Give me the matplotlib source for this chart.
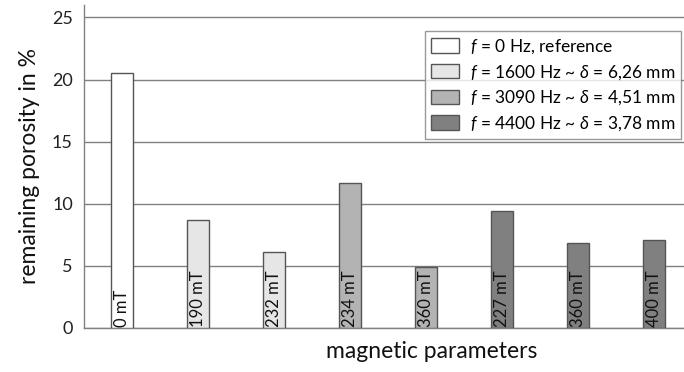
import matplotlib
matplotlib.use("Agg")
import matplotlib.pyplot as plt
from matplotlib.patches import Patch

categories = ["0 mT", "190 mT", "232 mT", "234 mT", "360 mT", "227 mT", "360 mT", "400 mT"]
values = [20.5, 8.7, 6.1, 11.65, 4.9, 9.4, 6.85, 7.1]
groups = [0, 1, 1, 2, 2, 3, 3, 3]
group_labels = [r"$f$ = 0 Hz, reference",
                r"$f$ = 1600 Hz ~ $\delta$ = 6,26 mm",
                r"$f$ = 3090 Hz ~ $\delta$ = 4,51 mm",
                r"$f$ = 4400 Hz ~ $\delta$ = 3,78 mm"]
group_colors = ["#ffffff", "#e6e6e6", "#b3b3b3", "#808080"]
yticks = [0, 5, 10, 15, 20, 25]

plt.rcParams['font.family'] = ['Lato', 'DejaVu Sans']
plt.rcParams['mathtext.fontset'] = 'custom'
plt.rcParams['mathtext.it'] = 'Lato:italic'
plt.rcParams['mathtext.rm'] = 'Lato'

fig = plt.figure(figsize=(6.84, 3.72), dpi=100)
ax = fig.add_axes([84/684, 44/372, 600/684, 323/372])

x = list(range(len(values)))
colors = [group_colors[g] for g in groups]
ax.bar(x, values, width=0.28, color=colors, edgecolor="#555555", linewidth=1, zorder=3)

for xi, lab in zip(x, categories):
    ax.text(xi, 0.1, lab, rotation=90, ha="center", va="bottom", fontsize=12,
            color="#111111", zorder=4)

ax.set_ylim(0, 26)
ax.set_xlim(-0.5, -0.5 + 600/76)
ax.set_yticks(yticks)
ax.set_xticks([])
ax.yaxis.grid(True, color="#808080", linewidth=1)
ax.set_axisbelow(True)
ax.tick_params(axis="y", length=0, labelsize=13, pad=8, labelcolor="#222222")
for s in ["top", "right"]:
    ax.spines[s].set_visible(False)
for s in ["left", "bottom"]:
    ax.spines[s].set_color("#808080")
    ax.spines[s].set_linewidth(1)

ax.set_ylabel("remaining porosity in %", fontsize=16.5, color="#111111", labelpad=9)
fig.text(432/684, 1 - 352/372, "magnetic parameters", fontsize=16.5, color="#111111",
         ha="center", va="center")

handles = [Patch(facecolor=c, edgecolor="#555555") for c in group_colors]
leg = ax.legend(handles, group_labels, loc="upper right", bbox_to_anchor=(597/600, 1 - 26/323),
                fontsize=12.5, frameon=True, fancybox=False, edgecolor="#808080",
                handlelength=1.6, handleheight=0.9, handletextpad=0.6, labelspacing=0.4,
                borderpad=0.35, borderaxespad=0)
leg.get_frame().set_linewidth(1)

fig.savefig("out.png", dpi=100)
